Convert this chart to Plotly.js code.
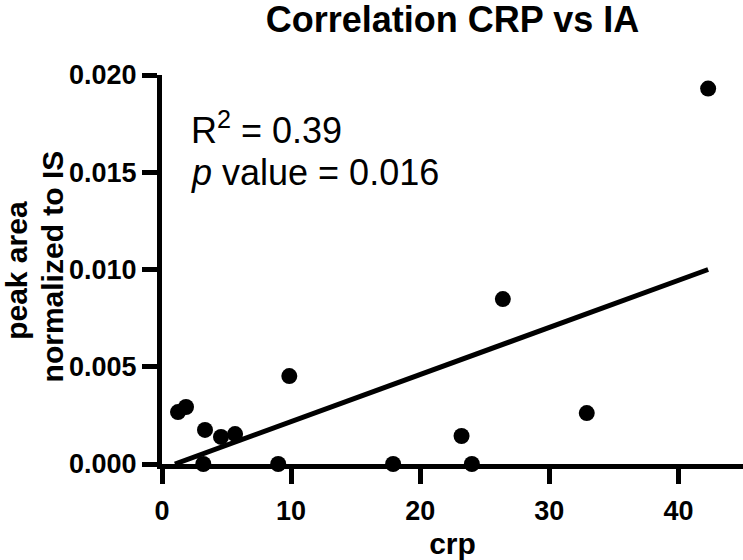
<!DOCTYPE html>
<html>
<head>
<meta charset="utf-8">
<script src="https://cdn.plot.ly/plotly-3.0.1.min.js"></script>
<style>
  html, body { margin: 0; padding: 0; background: #fff; }
  #plot { width: 743px; height: 560px; }
</style>
</head>
<body>
<div id="plot"></div>
<script>
// values
let crp = [1.24, 1.86, 3.2, 3.33, 4.57, 5.66, 9.0, 9.86, 17.9, 23.2, 24.0, 26.4, 32.9, 42.3];
let peakArea = [0.00267, 0.00293, 0, 0.00175, 0.00139, 0.00154, 0, 0.00452, 0, 0.00144, 0, 0.00848, 0.00262, 0.0193];

// regression line end points
let fitX = [1.0, 42.3];
let fitY = [0.0, 0.0100];

let xTicks = [0, 10, 20, 30, 40];
let yTicks = [0, 0.005, 0.010, 0.015, 0.020];
let yTickText = ['0.000', '0.005', '0.010', '0.015', '0.020'];

// y title is two lines, placed one by one (tighter spacing than plotly's <br>)
let yTitleLines = ['peak area', 'normalized to IS'];

const fontFam = '"Liberation Sans", Arial, Helvetica, sans-serif';

let points = {
    x: crp,
    y: peakArea,
    mode: 'markers',
    type: 'scatter',
    marker: { color: '#000', size: 16 },
    cliponaxis: false,
    hoverinfo: 'x+y'
};

let fit = {
    x: fitX,
    y: fitY,
    mode: 'lines',
    type: 'scatter',
    line: { color: '#000', width: 5 },
    cliponaxis: false,
    hoverinfo: 'skip'
};

let yTitleAnn = [
    { text: yTitleLines[0], x: -0.2496, y: 0.499 },
    { text: yTitleLines[1], x: -0.1893, y: 0.508 }
].map(a => ({
    text: a.text,
    xref: 'paper', yref: 'paper',
    x: a.x, y: a.y,
    xanchor: 'center', yanchor: 'middle',
    textangle: -90,
    showarrow: false,
    font: { size: 30, weight: 700, family: fontFam, color: '#000' }
}));

let layout = {
    width: 743,
    height: 560,
    margin: { l: 162, r: 0, t: 75, b: 96 },
    paper_bgcolor: '#fff',
    plot_bgcolor: '#fff',
    showlegend: false,
    font: { family: fontFam, color: '#000' },
    title: {
        text: 'Correlation CRP vs IA',
        font: { size: 36, weight: 700, family: fontFam, color: '#000' },
        x: 0.5, xref: 'paper', xanchor: 'center',
        y: 0.965, yref: 'container', yanchor: 'middle'
    },
    xaxis: {
        range: [0, 45],
        tickvals: xTicks,
        ticks: 'outside',
        ticklen: 15,
        tickwidth: 5,
        tickcolor: '#000',
        ticklabelstandoff: 4,
        showline: true,
        linewidth: 5,
        linecolor: '#000',
        showgrid: false,
        zeroline: false,
        layer: 'below traces',
        tickfont: { size: 27, weight: 700, family: fontFam },
        title: { text: 'crp', font: { size: 30, weight: 700, family: fontFam }, standoff: 12 }
    },
    yaxis: {
        range: [0, 0.020],
        tickvals: yTicks,
        ticktext: yTickText,
        ticks: 'outside',
        ticklen: 15,
        tickwidth: 5,
        tickcolor: '#000',
        showline: true,
        linewidth: 5,
        linecolor: '#000',
        showgrid: false,
        zeroline: false,
        layer: 'below traces',
        tickfont: { size: 27, weight: 700, family: fontFam }
    },
    annotations: [
        {
            text: 'R<sup>2</sup> = 0.39',
            xref: 'paper', yref: 'paper',
            x: 0.047, y: 0.864,
            xanchor: 'left', yanchor: 'middle',
            showarrow: false,
            font: { size: 36, family: fontFam, color: '#000' }
        },
        {
            text: '<i>p</i> value = 0.016',
            xref: 'paper', yref: 'paper',
            x: 0.047, y: 0.75,
            xanchor: 'left', yanchor: 'middle',
            showarrow: false,
            font: { size: 36, family: fontFam, color: '#000' }
        }
    ].concat(yTitleAnn)
};

Plotly.newPlot('plot', [fit, points], layout, { displayModeBar: false, staticPlot: true });
</script>
</body>
</html>
